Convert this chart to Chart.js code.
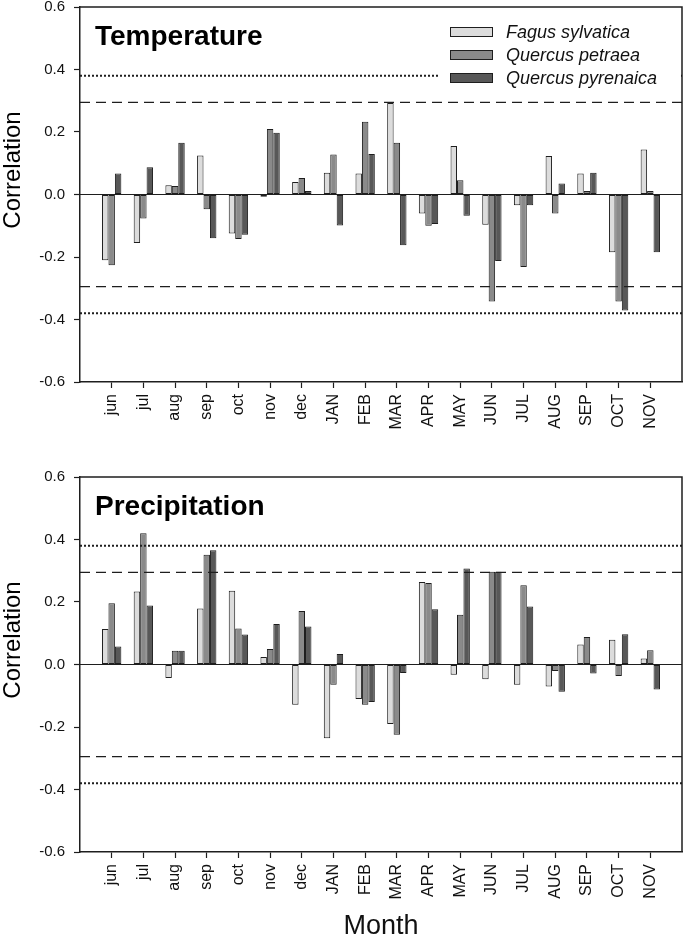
<!DOCTYPE html>
<html>
<head>
<meta charset="utf-8">
<script src="https://cdn.jsdelivr.net/npm/chart.js@4.4.1/dist/chart.umd.min.js"></script>
<style>
  body { margin: 0; background: #fff; }
  .panel { width: 685px; height: 470px; }
</style>
</head>
<body>
<div class="panel"><canvas id="tempChart" width="685" height="470"></canvas></div>
<div class="panel"><canvas id="precChart" width="685" height="470"></canvas></div>
<script>
const months = ["jun", "jul", "aug", "sep", "oct", "nov", "dec", "JAN", "FEB", "MAR", "APR", "MAY", "JUN", "JUL", "AUG", "SEP", "OCT", "NOV"];
const species = ["Fagus sylvatica", "Quercus petraea", "Quercus pyrenaica"];
const yTicks = [-0.6, -0.4, -0.2, 0.0, 0.2, 0.4, 0.6];
const thresholds95 = [-0.295, 0.295];
const thresholds99 = [-0.38, 0.38];

const tempFagus = [-0.21, -0.155, 0.03, 0.125, -0.125, -0.007, 0.04, 0.07, 0.067, 0.293, -0.061, 0.155, -0.097, -0.034, 0.123, 0.067, -0.185, 0.144];
const tempPetraea = [-0.226, -0.077, 0.027, -0.047, -0.142, 0.21, 0.053, 0.128, 0.233, 0.166, -0.1, 0.046, -0.342, -0.232, -0.061, 0.011, -0.342, 0.011];
const tempPyrenaica = [0.067, 0.087, 0.166, -0.14, -0.129, 0.198, 0.011, -0.099, 0.13, -0.162, -0.094, -0.068, -0.213, -0.034, 0.035, 0.07, -0.371, -0.185];

const precFagus = [0.114, 0.234, -0.043, 0.179, 0.236, 0.024, -0.129, -0.236, -0.11, -0.19, 0.264, -0.033, -0.047, -0.065, -0.07, 0.064, 0.079, 0.019];
const precPetraea = [0.196, 0.42, 0.044, 0.351, 0.115, 0.05, 0.171, -0.065, -0.129, -0.225, 0.261, 0.159, 0.297, 0.254, -0.021, 0.088, -0.037, 0.046];
const precPyrenaica = [0.058, 0.189, 0.044, 0.366, 0.096, 0.13, 0.122, 0.034, -0.12, -0.027, 0.177, 0.307, 0.297, 0.186, -0.087, -0.029, 0.097, -0.08];

const barColors = ["#dcdcdc", "#8a8a8a", "#585858"];
const ink = "#1e1e1e";
const fontFamily = "'Liberation Sans', Arial, sans-serif";

Chart.defaults.font.family = fontFamily;
Chart.defaults.color = ink;

// one empty slot on each side so the first/last month sit one step in from the frame
const labels = ["", ...months, ""];
const pad = (vals) => [null, ...vals, null];

function hline(ctx, area, yPix, dash, width) {
  ctx.beginPath();
  ctx.setLineDash(dash);
  ctx.lineWidth = width;
  ctx.moveTo(area.left, yPix);
  ctx.lineTo(area.right, yPix);
  ctx.stroke();
}

const overlay = {
  id: "overlay",
  afterDatasetsDraw(chart, args, opts) {
    const { ctx, chartArea: a } = chart;
    const y = chart.scales.y;
    ctx.save();
    ctx.strokeStyle = ink;
    hline(ctx, a, y.getPixelForValue(0), [], 1.2);
    thresholds95.forEach((t) => hline(ctx, a, y.getPixelForValue(t), [10, 6], 1.2));
    thresholds99.forEach((t) => hline(ctx, a, y.getPixelForValue(t), [2, 2], 2));
    ctx.setLineDash([]);

    // panel title
    ctx.fillStyle = "#000";
    ctx.font = "bold 28px " + fontFamily;
    ctx.textAlign = "left";
    ctx.textBaseline = "alphabetic";
    ctx.fillText(opts.title, 95, 45);

    // y axis title
    ctx.save();
    ctx.translate(13, 170);
    ctx.rotate(-Math.PI / 2);
    ctx.font = "24px " + fontFamily;
    ctx.textAlign = "center";
    ctx.textBaseline = "middle";
    ctx.fillText("Correlation", 0, 0);
    ctx.restore();

    if (opts.legend) {
      ctx.fillStyle = "#fff";
      ctx.fillRect(440, a.top + 10, a.right - 441, 76);
      ctx.font = "italic 18px " + fontFamily;
      ctx.textBaseline = "middle";
      chart.data.datasets.forEach((ds, i) => {
        const cy = 32 + i * 23;
        ctx.fillStyle = ds.backgroundColor;
        ctx.fillRect(450, cy - 5, 43, 10);
        ctx.lineWidth = 1;
        ctx.strokeStyle = ink;
        ctx.strokeRect(450.5, cy - 4.5, 42, 9);
        ctx.fillStyle = "#111";
        ctx.fillText(ds.label, 506, cy + 1);
      });
    }

    // frame top + right
    ctx.strokeStyle = ink;
    ctx.lineWidth = 1.5;
    ctx.beginPath();
    ctx.moveTo(a.left, a.top);
    ctx.lineTo(a.right, a.top);
    ctx.lineTo(a.right, a.bottom);
    ctx.stroke();
    ctx.restore();
  },
};

function createCorrelationChart(id, title, fagus, petraea, pyrenaica, showLegend, xTitle) {
  const series = [fagus, petraea, pyrenaica];
  return new Chart(id, {
    type: "bar",
    data: {
      labels: labels,
      datasets: series.map((vals, i) => ({
        label: species[i],
        data: pad(vals),
        backgroundColor: barColors[i],
        borderColor: ink,
        borderWidth: 1,
        borderSkipped: false,
        categoryPercentage: 0.61,
        barPercentage: 1.0,
      })),
    },
    plugins: [overlay],
    options: {
      responsive: false,
      animation: false,
      layout: { padding: { top: 7, right: 3, left: 0, bottom: 0 } },
      plugins: {
        legend: { display: false },
        tooltip: { enabled: false },
        overlay: { title: title, legend: showLegend },
      },
      scales: {
        x: {
          offset: false,
          grid: { offset: false, drawOnChartArea: false, drawTicks: true, tickLength: 6, tickColor: ink, tickWidth: 1.2 },
          border: { display: true, color: ink, width: 1.5 },
          ticks: { autoSkip: false, minRotation: 90, maxRotation: 90, padding: 6, font: { size: 16 }, color: "#111" },
          afterBuildTicks: (s) => { s.ticks = s.ticks.filter((t) => t.value > 0 && t.value < labels.length - 1); },
          afterFit: (s) => { s.height = 88; s.paddingLeft = 0; s.paddingRight = 0; },
          title: { display: !!xTitle, text: xTitle || "", font: { size: 27, lineHeight: 1 }, color: "#111", padding: { top: 0, bottom: 0 } },
        },
        y: {
          min: yTicks[0],
          max: yTicks[yTicks.length - 1],
          grid: { drawOnChartArea: false, drawTicks: true, tickLength: 6, tickColor: ink, tickWidth: 1.2 },
          border: { display: true, color: ink, width: 1.5 },
          afterBuildTicks: (s) => { s.ticks = yTicks.map((v) => ({ value: v })); },
          afterFit: (s) => { s.width = 80; s.paddingTop = 0; s.paddingBottom = 0; },
          ticks: { padding: 9, font: { size: 15 }, color: "#111", callback: (v) => Number(v).toFixed(1) },
        },
      },
    },
  });
}

createCorrelationChart("tempChart", "Temperature", tempFagus, tempPetraea, tempPyrenaica, true, null);
createCorrelationChart("precChart", "Precipitation", precFagus, precPetraea, precPyrenaica, false, "Month");
</script>
</body>
</html>
